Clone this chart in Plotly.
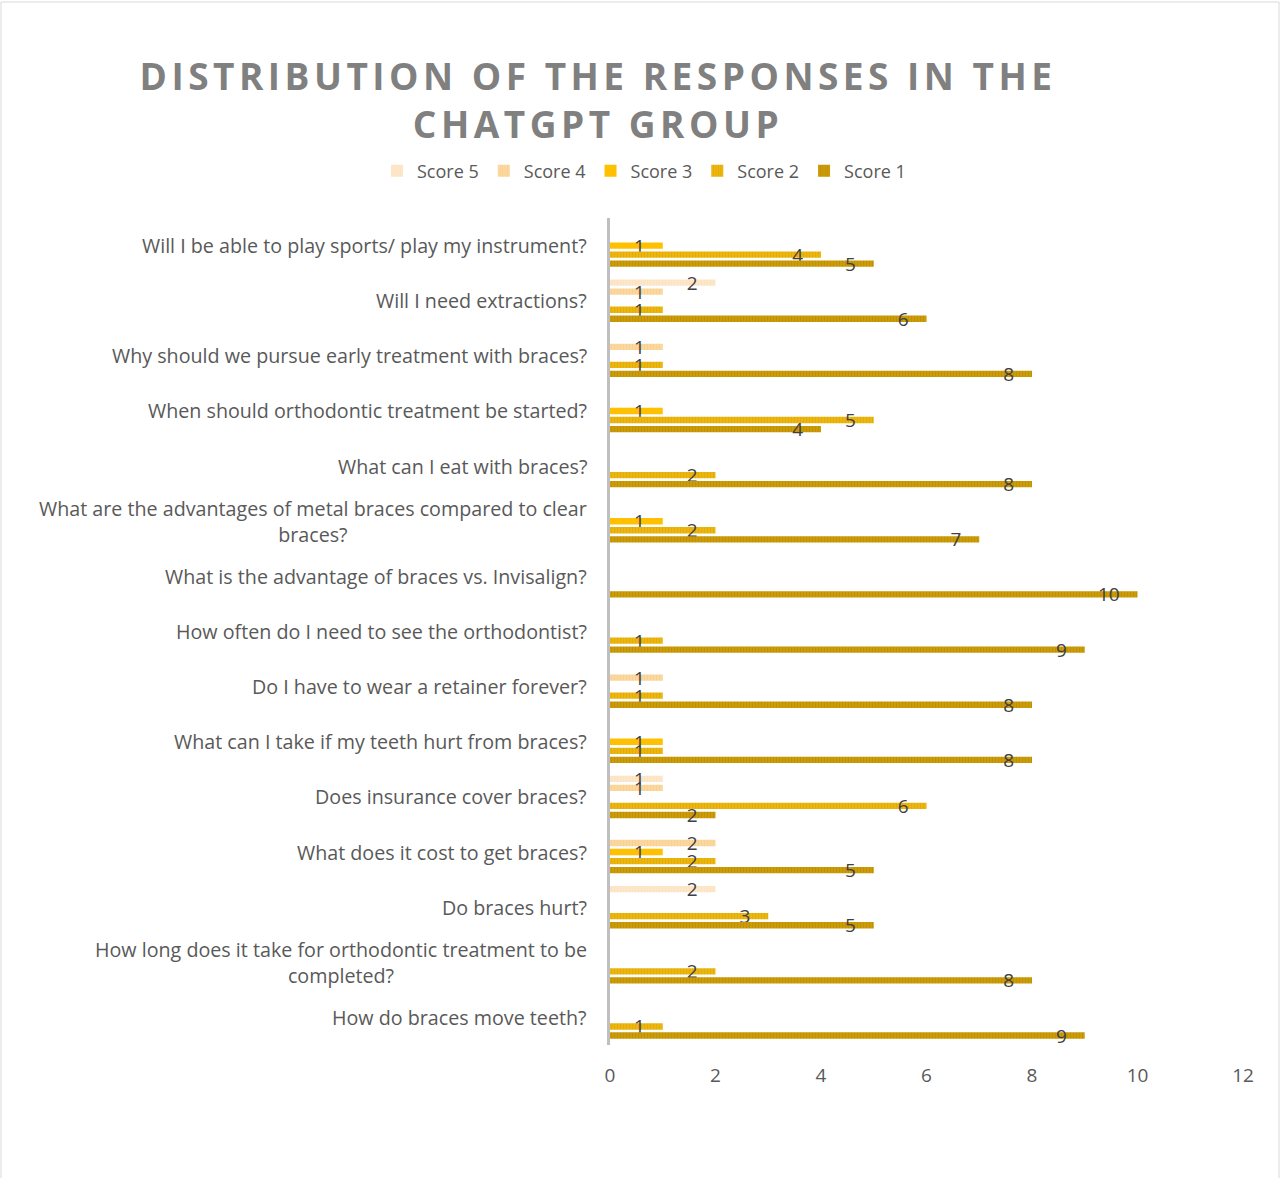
import plotly.graph_objects as go

categories = [
    "Will I be able to play sports/ play my instrument?",
    "Will I need extractions?",
    "Why should we pursue early treatment with braces?",
    "When should orthodontic treatment be started?",
    "What can I eat with braces?",
    "What are the advantages of metal braces compared to clear<br>braces?",
    "What is the advantage of braces vs. Invisalign?",
    "How often do I need to see the orthodontist?",
    "Do I have to wear a retainer forever?",
    "What can I take if my teeth hurt from braces?",
    "Does insurance cover braces?",
    "What does it cost to get braces?",
    "Do braces hurt?",
    "How long does it take for orthodontic treatment to be<br>completed?",
    "How do braces move teeth?",
]

score5 = [None, 2, None, None, None, None, None, None, None, None, 1, None, 2, None, None]
score4 = [None, 1, 1, None, None, None, None, None, 1, None, 1, 2, None, None, None]
score3 = [1, None, None, 1, None, 1, None, None, None, 1, None, 1, None, None, None]
score2 = [4, 1, 1, 5, 2, 2, None, 1, 1, 1, 6, 2, 3, 2, 1]
score1 = [5, 6, 8, 4, 8, 7, 10, 9, 8, 8, 2, 5, 5, 8, 9]

series_names = ["Score 5", "Score 4", "Score 3", "Score 2", "Score 1"]
series_values = [score5, score4, score3, score2, score1]
x_ticks = [0, 2, 4, 6, 8, 10, 12]

styles = {
    "Score 5": dict(bg="#FDE8CC", fg="#F9DDB5"),
    "Score 4": dict(bg="#FCD9A2", fg="#F8C880"),
    "Score 3": dict(bg="#FFC000", fg="#FFC000"),
    "Score 2": dict(bg="#EDB710", fg="#D8A300"),
    "Score 1": dict(bg="#CC9C08", fg="#B38600"),
}

FONT = "Open Sans, Lato, sans-serif"
fig = go.Figure()
for name, vals in zip(series_names, series_values):
    st = styles[name]
    fig.add_trace(go.Bar(
        name=name,
        y=categories,
        x=vals,
        orientation="h",
        marker=dict(
            color=st["bg"],
            line=dict(width=0),
            pattern=dict(shape="|", size=3, solidity=0.4, fgcolor=st["fg"], bgcolor=st["bg"], fillmode="overlay"),
        ),
        text=[("" if v is None else str(v)) for v in vals],
        texttemplate="%{text}\u00a0\u00a0\u00a0",
        textposition="inside",
        insidetextanchor="end",
        constraintext="none",
        textangle=0,
        insidetextfont=dict(family=FONT, size=19, color="#404040"),
        cliponaxis=False,
        hoverinfo="x+y+name",
    ))

# category labels as annotations (centered multi-line like the original)
for c in categories:
    fig.add_annotation(
        x=0, xref="paper", xanchor="right", xshift=-21,
        y=c, yref="y", yanchor="middle",
        text=c, showarrow=False, align="center",
        font=dict(family=FONT, size=19.7, color="#595959"),
    )

W, H = 1281, 1178
L, R, T, B = 610, 38, 218, 133
pw = W - L - R
ph = H - T - B

def px_x(p):
    return (p - L) / pw

def px_y(p):
    return (H - B - p) / ph

# outer chart border
fig.add_shape(type="rect", xref="paper", yref="paper",
              x0=px_x(1), x1=px_x(1279), y0=px_y(1190), y1=px_y(2),
              line=dict(color="#D9D9D9", width=1), fillcolor="rgba(0,0,0,0)", layer="below")

fig.update_layout(
    width=W, height=H,
    margin=dict(l=L, r=R, t=T, b=B),
    paper_bgcolor="white", plot_bgcolor="white",
    barmode="group",
    bargap=0.18,
    bargroupgap=0.3,
    title=dict(
        text='<span style="letter-spacing:4.5px">DISTRIBUTION OF THE RESPONSES IN THE<br>CHATGPT GROUP</span>',
        x=598 / W, xanchor="center",
        y=1 - 90 / H, yanchor="middle",
        font=dict(family=FONT, size=37, color="#808080", weight="bold"),
    ),
    legend=dict(
        orientation="h",
        x=px_x(644), xanchor="center",
        y=px_y(171), yanchor="middle",
        font=dict(family=FONT, size=18, color="#595959"),
        traceorder="normal",
        itemwidth=30,
    ),
    xaxis=dict(
        range=[0, 12],
        tickvals=x_ticks,
        showgrid=False, zeroline=False, showline=False,
        ticks="outside", ticklen=13, tickcolor="rgba(0,0,0,0)",
        tickfont=dict(family=FONT, size=19, color="#595959"),
    ),
    yaxis=dict(
        autorange="reversed",
        showticklabels=False,
        showgrid=False, zeroline=False,
        showline=True, linecolor="#BFBFBF", linewidth=3,
        ticks="",
    ),
    showlegend=True,
)

fig.write_html("out.html")
